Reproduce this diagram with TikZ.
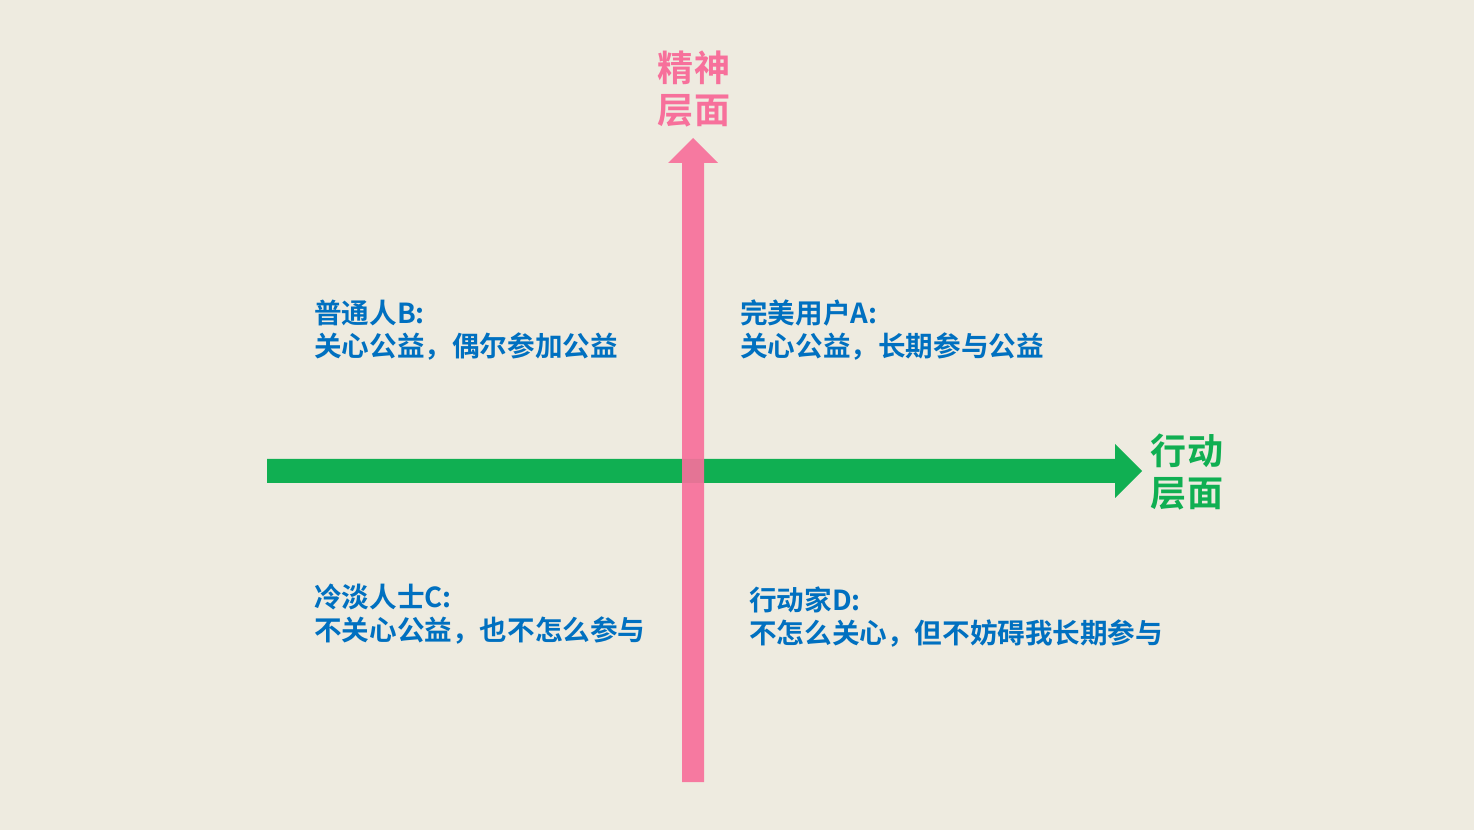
\documentclass[tikz,border=0pt]{standalone}
\usepackage{fontspec}
\newfontfamily\cjk{Noto Sans CJK SC}[BoldFont={* Bold}]
\usetikzlibrary{positioning}
\definecolor{paper}{HTML}{EEEBE0}
\definecolor{mindPink}{HTML}{F7709B}
\definecolor{actGreen}{HTML}{10AF52}
\definecolor{labelBlue}{HTML}{0070C0}
\tikzset{
	quadLabel/.style={anchor=west,align=left,text=labelBlue,font=\cjk\bfseries\fontsize{15.7}{18.8}\selectfont,inner sep=0pt},
	axisLabel/.style={align=center,font=\cjk\bfseries\fontsize{20.5}{24}\selectfont,inner sep=0pt}
}
\begin{document}
\begin{tikzpicture}[x=0.02cm,y=-0.02cm]
\fill[paper] (0,0) rectangle (1474,830);
\useasboundingbox (0,0) rectangle (1474,830);

% action axis
\fill[actGreen] (267,459) -- (1115,459) -- (1115,444) -- (1142,471) -- (1115,498) -- (1115,483) -- (267,483) -- cycle;
\node[axisLabel,text=actGreen] (actLabel) at (1187,472) {行动\\层面};

% mind axis
\fill[mindPink,opacity=0.92] (682,782) -- (682,163) -- (668,163) -- (693,138) -- (718,163) -- (704,163) -- (704,782) -- cycle;
\node[axisLabel,text=mindPink] (mindLabel) at (694,89) {精神\\层面};

% quadrants
\node[quadLabel] (userA) at (740,330) {完美用户A:\\关心公益，长期参与公益};
\node[quadLabel] (userB) at (314,330) {普通人B:\\关心公益，偶尔参加公益};
\node[quadLabel] (userC) at (314,614) {冷淡人士C:\\不关心公益，也不怎么参与};
\node[quadLabel] (userD) at (749,617) {行动家D:\\不怎么关心，但不妨碍我长期参与};

\end{tikzpicture}
\end{document}
